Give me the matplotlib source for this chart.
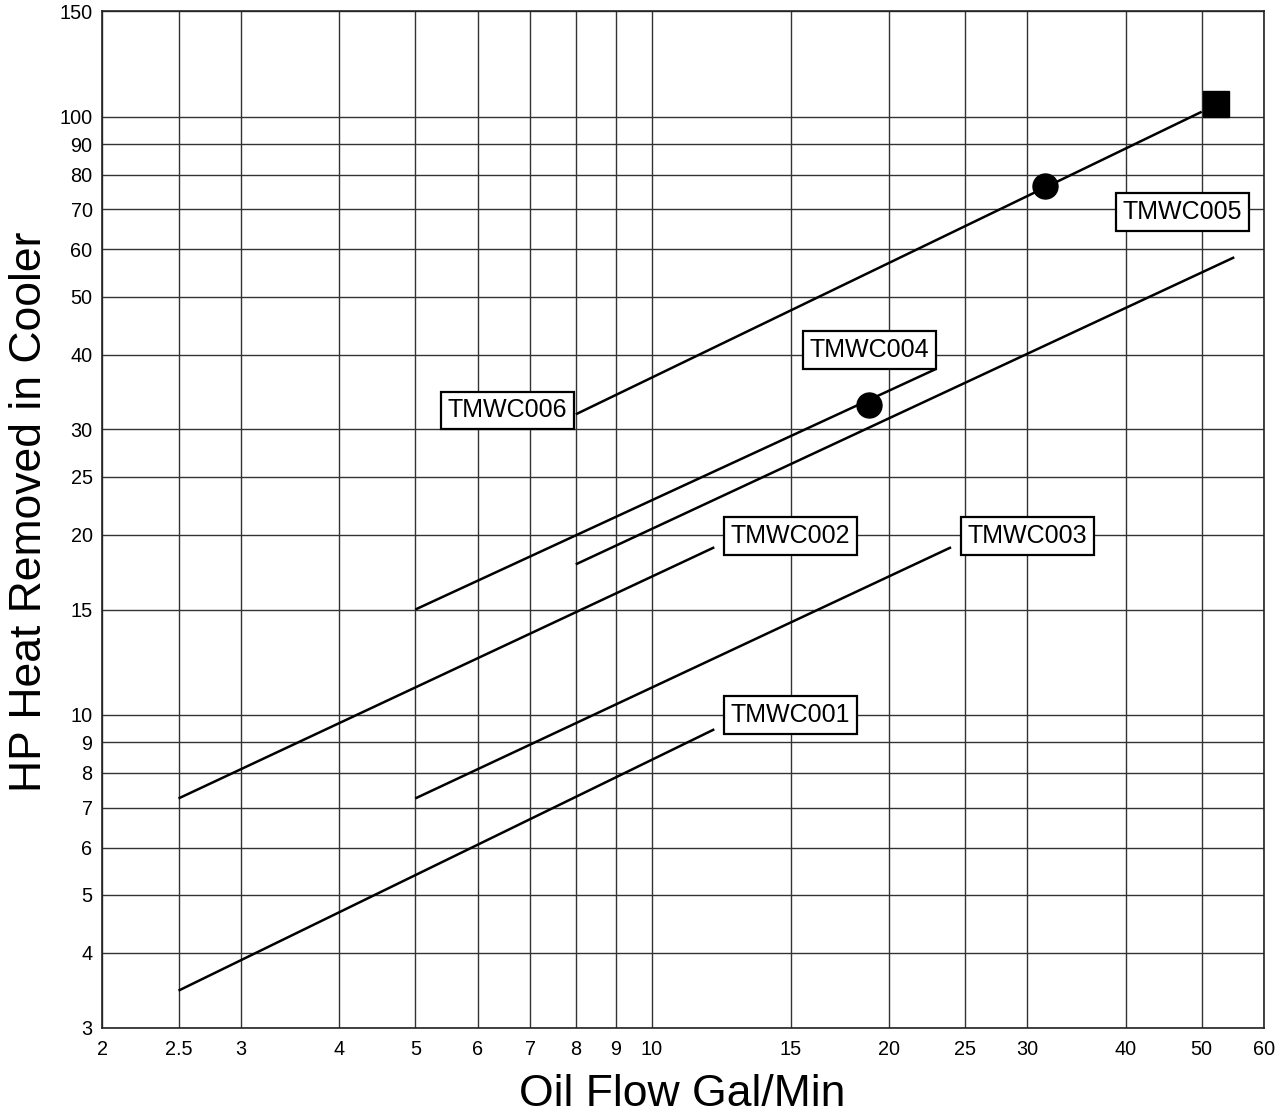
import matplotlib
matplotlib.use("Agg")
import matplotlib.pyplot as plt
from matplotlib.ticker import FixedLocator, NullLocator, FixedFormatter

plt.rcParams['font.family'] = ['Liberation Sans', 'DejaVu Sans']

# ---------------- data ----------------
series_names = ["TMWC001", "TMWC002", "TMWC003", "TMWC004", "TMWC005", "TMWC006"]
flow_start = [2.5, 2.5, 5.0, 5.0, 8.0, 8.0]
flow_end = [12.0, 12.0, 24.0, 23.0, 55.0, 50.0]
hp_start = [3.46, 7.25, 7.25, 15.0, 17.85, 31.8]
hp_end = [9.46, 19.06, 19.06, 37.9, 58.2, 101.9]

label_flow = [15.0, 15.0, 30.0, 18.9, 47.2, 6.55]
label_hp = [10.0, 19.9, 19.9, 40.7, 69.3, 32.3]

circle_flow = [18.9, 31.6]
circle_hp = [33.0, 76.6]
square_flow = [52.2]
square_hp = [104.9]

x_ticks = [2, 2.5, 3, 4, 5, 6, 7, 8, 9, 10, 15, 20, 25, 30, 40, 50, 60]
x_tick_labels = ["2", "2.5", "3", "4", "5", "6", "7", "8", "9", "10",
                 "15", "20", "25", "30", "40", "50", "60"]
y_ticks = [3, 4, 5, 6, 7, 8, 9, 10, 15, 20, 25, 30, 40, 50, 60, 70, 80, 90, 100, 150]
y_tick_labels = ["3", "4", "5", "6", "7", "8", "9", "10", "15", "20", "25", "30",
                 "40", "50", "60", "70", "80", "90", "100", "150"]

x_label = "Oil Flow Gal/Min"
y_label = "HP Heat Removed in Cooler"

# ---------------- figure ----------------
fig = plt.figure(figsize=(12.84, 11.16), dpi=100)
ax = fig.add_axes([102.3 / 1284, 1 - 1027.7 / 1116, (1264 - 102.3) / 1284, (1027.7 - 11.3) / 1116])

ax.set_xscale("log")
ax.set_yscale("log")
ax.set_xlim(2, 60)
ax.set_ylim(3, 150)

ax.xaxis.set_major_locator(FixedLocator(x_ticks))
ax.xaxis.set_major_formatter(FixedFormatter(x_tick_labels))
ax.xaxis.set_minor_locator(NullLocator())
ax.yaxis.set_major_locator(FixedLocator(y_ticks))
ax.yaxis.set_major_formatter(FixedFormatter(y_tick_labels))
ax.yaxis.set_minor_locator(NullLocator())

ax.grid(True, which="major", color="#333333", linewidth=1.0)
ax.set_axisbelow(True)
ax.tick_params(axis="both", length=0, labelsize=14.3, colors="black")
ax.tick_params(axis="x", pad=9)
ax.tick_params(axis="y", pad=7)
for sp in ax.spines.values():
    sp.set_color("#222222")
    sp.set_linewidth(1.2)

for fs, fe, hs, he in zip(flow_start, flow_end, hp_start, hp_end):
    ax.plot([fs, fe], [hs, he], color="black", linewidth=1.8, solid_capstyle="butt", zorder=3)

ax.plot(circle_flow, circle_hp, linestyle="none", marker="o", markersize=18,
        color="black", zorder=4)
ax.plot(square_flow, square_hp, linestyle="none", marker="s", markersize=19,
        color="black", zorder=4)

for name, lx, ly in zip(series_names, label_flow, label_hp):
    ax.text(lx, ly, name, ha="center", va="center", fontsize=18, zorder=5,
            bbox=dict(boxstyle="square,pad=0.27", facecolor="white",
                      edgecolor="black", linewidth=1.6))

fig.text(682 / 1284, 1 - 1106 / 1116, x_label, ha="center", va="baseline", fontsize=32)
fig.text(30 / 1284, 1 - 512 / 1116, y_label, ha="center", va="center",
         rotation=90, fontsize=32)

fig.savefig("out.png", dpi=100)
